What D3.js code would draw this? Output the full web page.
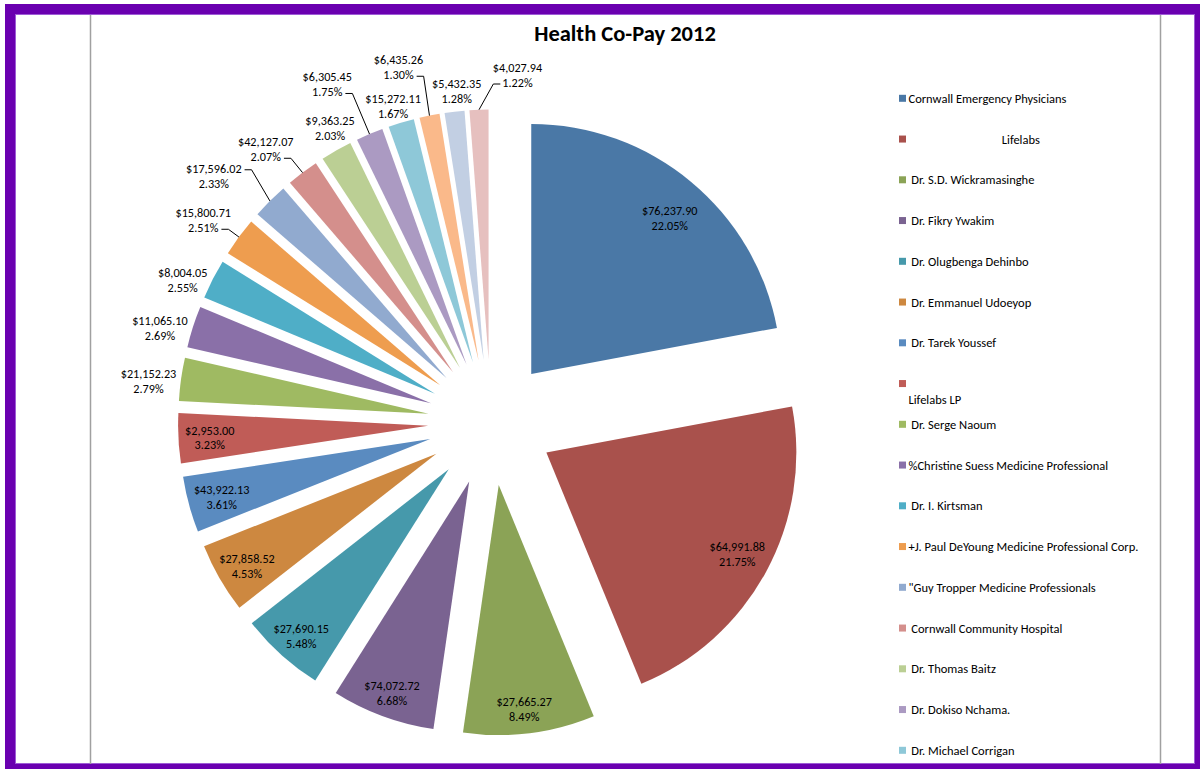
<!DOCTYPE html>
<html>
<head>
<meta charset="utf-8">
<script src="https://cdn.jsdelivr.net/npm/d3@7"></script>
<style>
  body { margin: 0; background: #fff; }
  text { font-family: Carlito, Calibri, Lato, sans-serif; fill: #000; }
</style>
</head>
<body>
<svg id="chart" width="1200" height="769"></svg>
<script>
// ---- data ----
const title = "Health Co-Pay 2012";

const providers = [
  "Cornwall Emergency Physicians",
  "                                 Lifelabs",
  " Dr. S.D. Wickramasinghe",
  " Dr. Fikry Ywakim",
  " Dr. Olugbenga Dehinbo",
  " Dr. Emmanuel Udoeyop",
  " Dr. Tarek Youssef",
  "\nLifelabs LP",
  " Dr. Serge Naoum",
  "%Christine Suess Medicine Professional",
  " Dr. I. Kirtsman",
  "+J. Paul DeYoung Medicine Professional Corp.",
  "\"Guy Tropper Medicine Professionals",
  " Cornwall Community Hospital",
  " Dr. Thomas Baitz",
  " Dr. Dokiso Nchama.",
  " Dr. Michael Corrigan"
];

const amounts = [
  76237.90, 64991.88, 27665.27, 74072.72, 27690.15, 27858.52, 43922.13, 2953.00,
  21152.23, 11065.10, 8004.05, 15800.71, 17596.02, 42127.07, 9363.25, 6305.45,
  15272.11, 6435.26, 5432.35, 4027.94
];

const shares = [
  22.05, 21.75, 8.49, 6.68, 5.48, 4.53, 3.61, 3.23,
  2.79, 2.69, 2.55, 2.51, 2.33, 2.07, 2.03, 1.75,
  1.67, 1.30, 1.28, 1.22
];

// ---- styling / layout ----
const sliceColors = [
  "#4A78A6", "#A9514C", "#8BA356", "#7A6391", "#4699AB", "#CD8840",
  "#5A8BC0", "#C05C57", "#9FBA62", "#8A70A8", "#4FAEC7", "#EE9D4F",
  "#91AACF", "#D48F8C", "#BBCF94", "#AB9AC2", "#8EC8D8", "#FAB98A",
  "#C2CFE3", "#E6C0BF"
];

// label anchor for each slice: [angle in degrees clockwise from 12 o'clock, distance from pie centre]
const labelSpots = [
  [41.15, 271.7], [118.06, 279.1], [173.4, 288.9], [200.07, 288.5],
  [221.6, 285.8], [239.54, 283.1], [254.54, 279.4], [266.95, 281.7],
  [276.91, 345.0], [286.0, 344.4], [294.85, 339.8], [305.1, 351.7],
  [311.67, 371.1], [320.5, 354.1], [331.3, 335.2], [334.15, 375.6],
  [342.8, 331.1], [345.4, 367.1], [354.1, 333.5], [4.36, 348.5]
];

// leader lines: slice index -> side of the label and which text line they leave from
const leaders = {
  11: { side: "right", line: 1 },
  12: { side: "right", line: 0 },
  13: { side: "right", line: 1 },
  15: { side: "right", line: 1 },
  17: { side: "right", line: 1 },
  19: { side: "left", line: 1 }
};

const cx = 491, cy = 422.5;
const radius = 250;
const explode = 63;
const labelFont = 12.2;
const lineGap = 15;

const svg = d3.select("#chart");

// frame
svg.append("rect")
  .attr("x", 10).attr("y", 9).attr("width", 1190).attr("height", 760)
  .attr("fill", "none").attr("stroke", "#6A00B0").attr("stroke-width", 10);
svg.append("rect")
  .attr("x", 15.5).attr("y", 14.5).attr("width", 1179).attr("height", 749)
  .attr("fill", "none").attr("stroke", "#9E5CD6").attr("stroke-width", 1);

// plot area side rules
[90.5, 1160.5].forEach(x => {
  svg.append("line")
    .attr("x1", x).attr("x2", x).attr("y1", 15).attr("y2", 764)
    .attr("stroke", "#A0A0A0").attr("stroke-width", 1.5);
});

// title
svg.append("text")
  .attr("x", 625).attr("y", 33)
  .attr("text-anchor", "middle").attr("dominant-baseline", "central")
  .style("font-size", "22.5px").style("font-weight", "bold")
  .text(title);

// pie
const pie = d3.pie().sort(null).value(d => d).startAngle(0).endAngle(2 * Math.PI);
const arcs = pie(shares);
const arc = d3.arc().innerRadius(0).outerRadius(radius);

const g = svg.append("g").attr("transform", `translate(${cx},${cy})`);
const midAngle = d => (d.startAngle + d.endAngle) / 2;
const polar = (a, r) => [Math.sin(a) * r, -Math.cos(a) * r];

g.selectAll("path.slice")
  .data(arcs)
  .join("path")
  .attr("class", "slice")
  .attr("d", arc)
  .attr("fill", (d, i) => sliceColors[i])
  .attr("transform", d => {
    const [x, y] = polar(midAngle(d), explode);
    return `translate(${x},${y})`;
  });

// data labels
const money = d3.format("$,.2f");
const pct = d3.format(".2f");

arcs.forEach((d, i) => {
  const [ang, r] = labelSpots[i];
  const [lx, ly] = polar(ang * Math.PI / 180, r);
  const lines = [money(amounts[i]), pct(shares[i]) + "%"];
  const texts = lines.map((s, k) =>
    g.append("text")
      .attr("x", lx)
      .attr("y", ly + (k === 0 ? -lineGap / 2 : lineGap / 2))
      .attr("text-anchor", "middle")
      .attr("dominant-baseline", "central")
      .style("font-size", labelFont + "px")
      .text(s)
  );

  const lead = leaders[i];
  if (lead) {
    const t = texts[lead.line];
    const w = t.node().getComputedTextLength();
    const yRow = +t.attr("y") + 1.5;
    const x0 = lead.side === "right" ? lx + w / 2 + 3 : lx - w / 2 - 2;
    const x1 = lead.side === "right" ? x0 + 7 : x0 - 7;
    const [tx, ty] = polar(midAngle(d), explode + radius);
    g.append("path")
      .attr("d", d3.line()([[x0, yRow], [x1, yRow], [tx, ty]]))
      .attr("fill", "none")
      .attr("stroke", "#000")
      .attr("stroke-width", 1);
  }
});

// legend
const legendX = 899, legendY = 98.3, legendStep = 40.75;
const legend = svg.append("g");
providers.forEach((name, i) => {
  const y = legendY + i * legendStep;
  legend.append("rect")
    .attr("x", legendX).attr("y", y - 3.5)
    .attr("width", 7).attr("height", 7)
    .attr("fill", sliceColors[i]);
  name.split("\n").forEach((part, k) => {
    legend.append("text")
      .attr("x", legendX + 9.5)
      .attr("y", y + k * 15.6)
      .attr("dominant-baseline", "central")
      .style("font-size", "12.5px")
      .style("white-space", "pre")
      .attr("xml:space", "preserve")
      .text(part);
  });
});
</script>
</body>
</html>
